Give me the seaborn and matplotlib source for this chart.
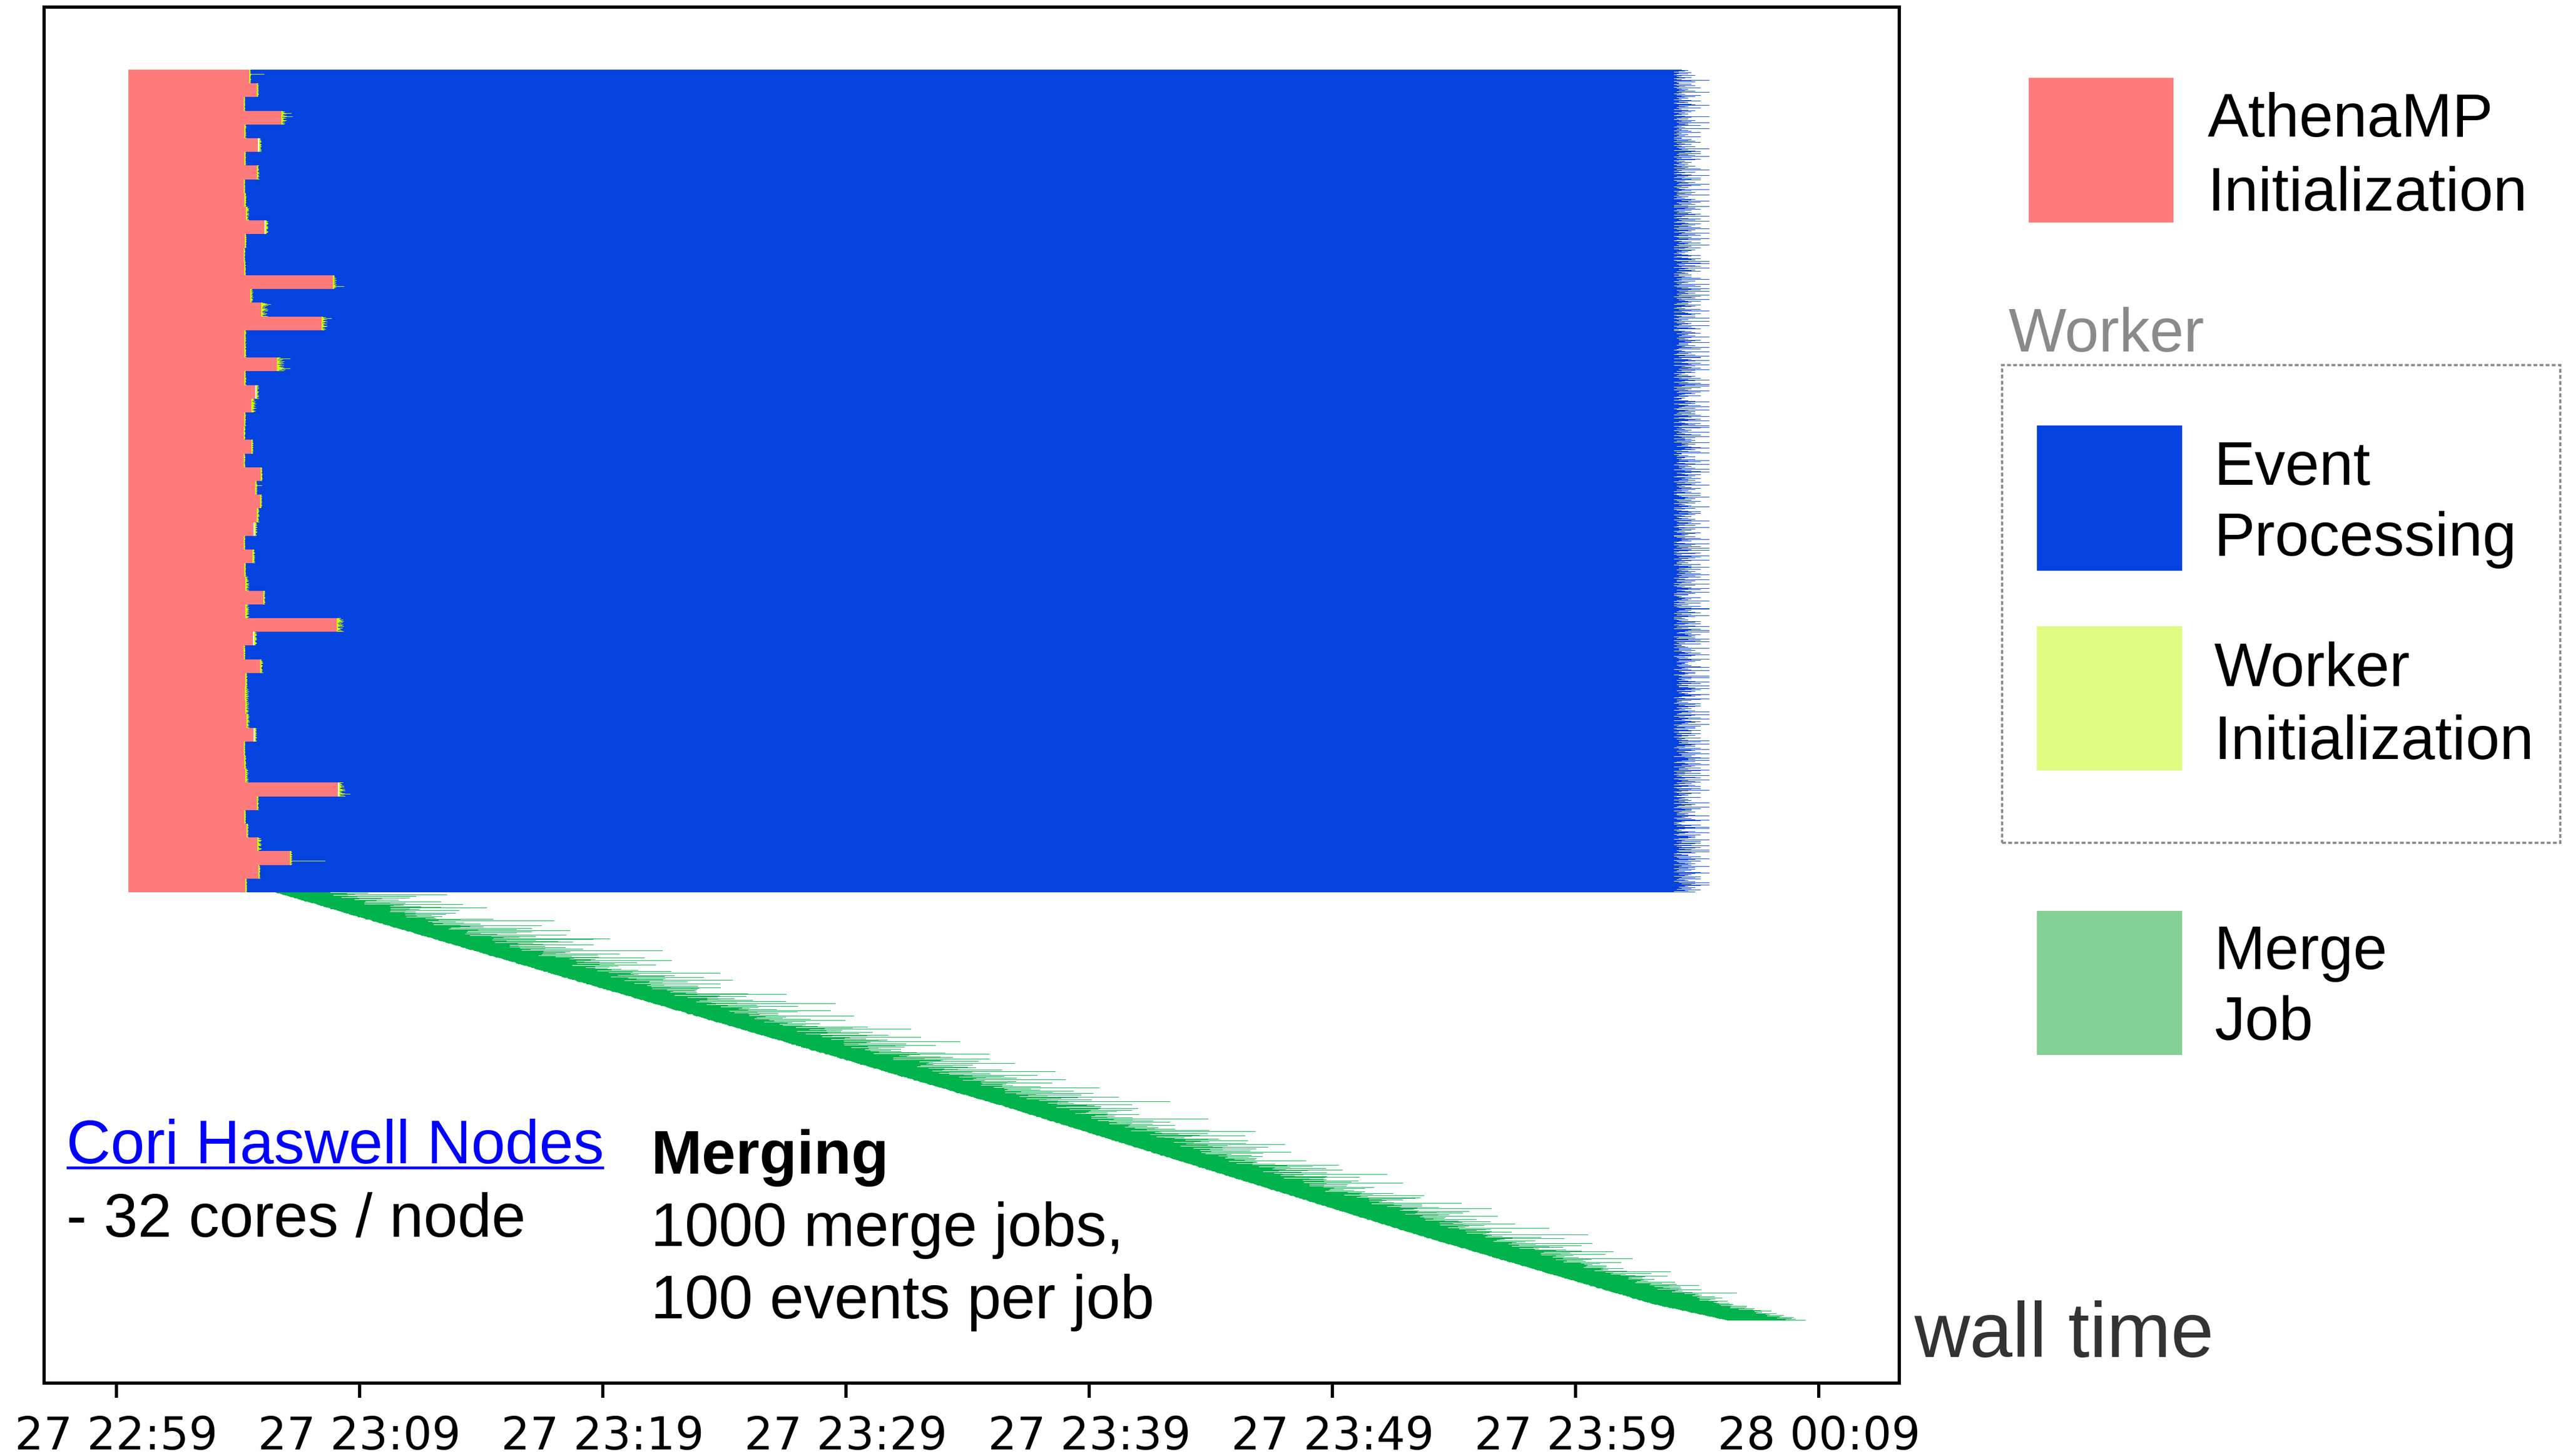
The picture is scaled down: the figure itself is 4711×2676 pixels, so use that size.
import numpy as np
import pandas as pd
import matplotlib
matplotlib.use("Agg")
import matplotlib.pyplot as plt
import matplotlib.dates as mdates
from matplotlib.patches import Rectangle
from matplotlib.lines import Line2D
import seaborn as sns
from datetime import datetime

# ---------------------------------------------------------------- data
run_origin = datetime(2019, 8, 27, 22, 59)      # first labelled tick
athena_start_min = 0.49                          # AthenaMP launched on every node
cores_per_node = 32

# per node: end of AthenaMP initialization (minutes after run_origin)
node_init_end = [
    5.46, 5.77, 5.23, 6.78, 5.26, 5.82, 5.26, 5.77, 5.23, 5.26,
    5.32, 6.08, 5.28, 5.23, 5.26, 8.90, 5.50, 5.94, 8.44, 5.26,
    5.26, 6.60, 5.26, 5.70, 5.55, 5.26, 5.23, 5.55, 5.23, 5.93,
    5.71, 5.91, 5.78, 5.64, 5.23, 5.60, 5.26, 5.30, 6.04, 5.30,
    9.06, 5.62, 5.23, 5.91, 5.30, 5.29, 5.30, 5.35, 5.64, 5.23,
    5.26, 5.30, 9.11, 5.77, 5.26, 5.35, 5.79, 7.14, 5.84, 5.30,
]
# per node: time by which (almost) all workers finished their initialization
node_worker_ready = [
    5.54, 5.86, 5.30, 7.00, 5.34, 5.94, 5.34, 5.88, 5.31, 5.35,
    5.47, 6.21, 5.35, 5.30, 5.32, 9.05, 5.63, 6.25, 8.67, 5.34,
    5.35, 7.00, 5.34, 5.83, 5.74, 5.32, 5.31, 5.64, 5.31, 6.01,
    5.80, 5.99, 5.88, 5.76, 5.31, 5.71, 5.34, 5.47, 6.12, 5.47,
    9.36, 5.74, 5.31, 6.03, 5.39, 5.45, 5.45, 5.48, 5.74, 5.31,
    5.34, 5.45, 9.38, 5.86, 5.33, 5.44, 5.97, 7.23, 5.92, 5.38,
]
nodes_with_idle_gap = [5, 11, 23, 33, 41, 48, 52]
idle_gap_min = 0.04
worker_init_min = 0.045
# relative worker-init spread per core (0 = fastest, 9 = slowest)
worker_init_shape = [
    "31625048271593604826139572048163",
    "52038416927305184629031748250619",
    "14730592861402759368105427396028",
]
# (node, core, end of worker init) for the stragglers
worker_init_tails = [
    (0, 10, 6.08), (3, 6, 7.20), (3, 13, 7.25), (15, 26, 9.37), (17, 3, 6.35),
    (18, 4, 8.87), (21, 2, 7.15), (21, 25, 7.15), (24, 20, 5.97), (30, 10, 5.99),
    (32, 8, 5.99), (40, 6, 9.81), (52, 26, 9.62), (57, 8, 8.59), (57, 22, 8.59),
]

# event processing: common end plus a per-core overrun level
event_end_min = 64.05
event_tail_levels_min = [0.0, 0.1, 0.2, 0.32, 0.45, 0.58, 0.72, 0.88, 1.1, 1.45]
event_tail_code = [
    "35142036251407318264051392607142", "26031745208163524071936204518372",
    "41527306182453016739250418263057", "13604825371049263158027436190524",
    "52813064297135046281730592418603", "30461527083914625037184296350718",
    "64208153729046318572049163825041", "17352048619305274180362951470836",
    "28041637502918463057124893605271", "43619270538140726395081642730159",
    "05274831604926153870429316058247", "39160452837015628409173562804931",
    "72853016429584103672850419236058", "14027963581420735869103458672019",
    "56389104276830915427068193450726", "20746358193627048513962704815369",
    "68135920475163928406715392048561", "31502847963105482679301458627013",
    "47290615382904716538290461573802", "09463728150437289614052837469125",
    "25817403962581037492685103749268", "83016592740318569207431685029734",
    "16748032951764038215976430518297", "54930281674059328160743928516043",
    "38205719463702518493627081954372", "61473028596320481759263041857329",
    "02958317460582931746805293174068", "47162093857430516829461730528193",
    "93025817464137029586214379058264", "25739016482961304857210694835172",
    "50384127693514260837195302648170", "18263950474036182957031426859307",
    "74019358262851703496128537046912", "36581047291094827365204918736540",
    "02714863958362051497306248159730", "69452031870531964827510398624105",
    "13870264596204813957260481593726", "85026491371468309257048136925813",
    "24691370585013728469351790246801", "57308142693946205178403621957403",
    "40915263871358406279145302869514", "92136480576042719358073914628037",
    "31458092762709364815293760481529", "06827315494351062897435106928374",
    "78540219360926384157092648315092", "25079638417163250498617325049861",
    "63291504872408751936248075193624", "19763042585931406827451390268174",
    "47015386290268413759302684137592", "80352917643714058296371405829637",
    "36104829575293716048529371604852", "52978063418460291537846029153784",
    "14629075383017862945301786294530", "91843625076425190378642519037864",
    "68037291542179583406217958340621", "03586142979642038175964203817596",
    "75210946381358720469135872046913", "29674103855083162947508316294750",
    "46392875017261540893726154089372", "83145067290736918452073691845207",
]

# merge jobs: first submission, then seconds between consecutive submissions
merge_first_start_min = 6.55
merge_gap_s = (
    "3444352434 2536431453 4353264342 3625343145 5342433624 1464332445 4237423443 3352461534 2444536323 6343233453 "
    "4353264342 4237423443 3444352434 2444536323 5342433624 2536431453 6343233453 3625343145 3352461534 1464332445 "
    "1464332445 3625343145 3352461534 2536431453 6343233453 3444352434 4353264342 2444536323 4237423443 5342433624 "
    "2444536323 3444352434 5342433624 4237423443 4353264342 3352461534 1464332445 2536431453 6343233453 3625343145 "
    "2536431453 6343233453 1464332445 3625343145 3352461534 4353264342 5342433624 3444352434 4237423443 2444536323 "
    "3433524433 2436323353 4325433442 2436323353 3433524433 4325433442 3433524433 2436323353 4325433442 3433524433 "
    "2436323353 4325433442 3433524433 4325433442 2436323353 3433524433 2436323353 4325433442 3433524433 2436323353 "
    "4325433442 3433524433 2436323353 3433524433 4325433442 2436323353 4325433442 3433524433 2436323353 4325433442 "
    "5342433624 3352461534 3444352434 6343233453 4353264342 1464332445 2444536323 2536431453 3625343145 4237423443 "
    "3444352434 3625343145 4237423443 4353264342 6343233453 3352461534 5464553646 4656456354 6455365464 5546465544"
)
# merge job durations: one base-36 digit per job, in quarter minutes on top of
# the half-minute minimum every merge needs
merge_dur_min = 0.5
merge_dur_unit_min = 0.25
merge_dur_code = (
    "7dg9ap6c8j 9b6hc8r7ea 8fk7b9d6mc 6a9eh7o8bc c7i9d6a8gq 9e7bl8c6fa a8j6d9s7cb 7cg8e6a9nb d9b7k6h8ap 8ai7f9c6bm "
    "6c9gd7a8ro b7e9h8j6ca 9dl7a8c6fi 7bh8e6t9ad c8a9k7g6eb 8f6ma9d7cp 9a7ci8e6bk 6gd9b7n8ac a9e7j6c8qb 7cb8h9f6la "
    "8e9d7o6agc 9b6kc8a7hf 7ai9e6d8mc c8f7b9j6pa 6d9hc7a8eb 9ag7l6b8cs 8c6e9ik7da 7b9fa8n6hc a6d8g9c7oe 9c7bj6f8ak "
    "8d6ga9e7mb 7a9ck8h6cq 9e7b6di8af 6c8jf9a7nb a9d7g6e8rc 8b7h9c6lea 9f6ak8d7bg 7c8e9i6pbd b9a6fh7c8m 6e7dj9b8ao "
    "9a8g7c6kef 7d9bi8a6qc 8c6e7h9laf a7bg9d8n6c 9e8c6j7bad 6b9fa7o8gc 8d7ci9e6ak 7a9h8b6dmf c6e9g7a8sb 9f7b8k6cde "
    "8a6dj9c7ha 7e9c8l6bgf a8b7i9d6pc 9c6fe7h8ka 6d9ag8b7nc 8b7e9j6cqa 9a6hc7f8md 7f8b9g6eak c9d7a6i8ob 8e6bk9c7hd "
    "9b7fa8l6gc 6a9dh7e8rb 7c8gb9j6fa a9e6c8m7dh 8d7ai9b6ke 9f6cg7a8pb 7b9ej8d6ac 6c8hb9f7na a7d9k6c8ge 9e8al7b6qc "
    "9bg8ac7kd9 a8cih9b7eb 8ad9bm7cfa b9e8ag7cob 9c8bj7adh9 a7ec9bl8ca 8b9gd7ach9 c8ak9b7efb 9a7bn8dcga 8c9fb7ai9q "
    "a9db8hc7ka 9b8e7cga9m 8ac9jb7dfa b7a9e8cgl9 9d8bai7c9h a8c9bkd7eb 8b7ag9c9pa 9ce8b7ahd9 a9b7cj8a9f 8da9bg7c9b "
    "9b8cak9a8e a7b9dc8gb9 8c9a9b7eab 9a8bci9b8a b9a8c9d9ab a8b9ca9e9b 9b9a8c9ab8 a9b8ab9c9a 9a8b9a9b8a a9b8a9a8b9"
)

tick_offsets_min = [0, 10, 20, 30, 40, 50, 60, 70]

# ---------------------------------------------------------------- tables
n_nodes = len(node_init_end)
pink_end = np.array(node_init_end)
ready = np.array(node_worker_ready)

w_row, w_init_start, w_init_end, w_evt_end = [], [], [], []
for n in range(n_nodes):
    shape = worker_init_shape[n % len(worker_init_shape)]
    gap = idle_gap_min if n in nodes_with_idle_gap else 0.0
    spread = max(ready[n] - pink_end[n] - worker_init_min, 0.0)
    code = event_tail_code[n]
    for c in range(cores_per_node):
        s = pink_end[n] + gap
        w_row.append(n * cores_per_node + c)
        w_init_start.append(s)
        w_init_end.append(s + worker_init_min + spread * int(shape[c]) / 9.0)
        w_evt_end.append(event_end_min + event_tail_levels_min[int(code[c])])
workers = pd.DataFrame(dict(row=w_row, init_start=w_init_start,
                            init_end=w_init_end, evt_end=w_evt_end))
for n, c, e in worker_init_tails:
    workers.loc[workers.row == n * cores_per_node + c, "init_end"] = e

gaps = np.array([int(ch) for ch in merge_gap_s if ch.isdigit()])
durs = merge_dur_min + np.array([int(ch, 36) for ch in merge_dur_code if ch.isalnum()]) * merge_dur_unit_min
n_merge = min(len(gaps), len(durs))
m_start = merge_first_start_min + np.concatenate([[0.0], np.cumsum(gaps[:n_merge - 1])]) / 60.0
merges = pd.DataFrame(dict(row=n_nodes * cores_per_node + np.arange(n_merge),
                           start=m_start, dur=durs[:n_merge]))

base = mdates.date2num(run_origin)


def when(minutes):
    return base + np.asarray(minutes, dtype=float) / 1440.0


def span(minutes):
    return np.asarray(minutes, dtype=float) / 1440.0


# ---------------------------------------------------------------- figure
PINK, BLUE, YELLOW, GREEN = "#FE7B7B", "#0443DF", "#CCFF00", "#00B34C"
YELLOW_KEY, GREEN_KEY = "#E0FB80", "#85D094"

sns.set_theme(style="ticks")
plt.rcParams["font.family"] = ["DejaVu Sans"]
SANS = ["Liberation Sans", "DejaVu Sans"]

W, H, DPI = 4711, 2676, 300
fig = plt.figure(figsize=(W / DPI, H / DPI), dpi=DPI, facecolor="white")


def fx(px):
    return px / W


def fy(py):
    return 1.0 - py / H


ax = fig.add_axes([fx(81), fy(2542), fx(3491) - fx(81), fy(13) - fy(2542)])
ax.set_facecolor("white")

bar_kw = dict(align="edge", linewidth=0, antialiased=False)
node_rows = np.arange(n_nodes) * cores_per_node
ax.barh(node_rows, span(pink_end - athena_start_min), left=when(np.full(n_nodes, athena_start_min)),
        height=cores_per_node, color=PINK, **bar_kw)
ax.barh(workers.row, span(workers.init_end - workers.init_start), left=when(workers.init_start),
        height=1, color=YELLOW, **bar_kw)
ax.barh(workers.row, span(workers.evt_end - workers.init_end), left=when(workers.init_end),
        height=1, color=BLUE, **bar_kw)
ax.barh(merges.row, span(merges.dur), left=when(merges.start),
        height=1, color=GREEN, **bar_kw)

ax.set_xlim(when(-2.975), when(73.31))
ax.set_ylim(3065.4, -146.0)
ax.set_yticks([])
ax.set_xticks(when(tick_offsets_min))
ax.xaxis.set_major_formatter(mdates.DateFormatter("%d %H:%M"))
ax.tick_params(axis="x", bottom=True, length=6.5, width=1.4, pad=7.5,
               labelsize=20, colors="black", direction="out")
for sp in ax.spines.values():
    sp.set_visible(True)
    sp.set_linewidth(1.44)
    sp.set_color("black")
ax.set_xlabel("")
ax.set_ylabel("")

# annotations inside the axes
txt = dict(fontsize=27, family=SANS, ha="left", va="baseline")
cori = fig.text(fx(122), fy(2138), "Cori Haswell Nodes", color="#0000FF", **txt)
fig.text(fx(122), fy(2272), "- 32 cores / node", color="black", **txt)
fig.text(fx(1196), fy(2157), "Merging", color="black", fontweight="bold", **txt)
fig.text(fx(1196), fy(2290), "1000 merge jobs,", color="black", **txt)
fig.text(fx(1196), fy(2423), "100 events per job", color="black", **txt)
fig.text(fx(3518), fy(2494), "wall time", color="#333333", fontsize=34,
         family=SANS, ha="left", va="baseline")

# legend column
def key_patch(x0, y0, x1, y1, color):
    fig.add_artist(Rectangle((fx(x0), fy(y1)), fx(x1) - fx(x0), fy(y0) - fy(y1),
                             transform=fig.transFigure, facecolor=color,
                             edgecolor="none", linewidth=0))


key_patch(3729, 143, 3995, 409, PINK)
key_patch(3744, 782, 4011, 1049, BLUE)
key_patch(3744, 1151, 4011, 1416, YELLOW_KEY)
key_patch(3744, 1674, 4011, 1939, GREEN_KEY)

for label, x, y in [("AthenaMP", 4058, 251), ("Initialization", 4058, 387),
                    ("Event", 4070, 891), ("Processing", 4070, 1021),
                    ("Worker", 4070, 1261), ("Initialization", 4070, 1395),
                    ("Merge", 4070, 1781), ("Job", 4070, 1911)]:
    fig.text(fx(x), fy(y), label, color="black", **txt)
fig.text(fx(3692), fy(646), "Worker", color="#8A8A8A", **txt)

fig.add_artist(Rectangle((fx(3680), fy(1549)), fx(4706) - fx(3680), fy(671) - fy(1549),
                         transform=fig.transFigure, fill=False, edgecolor="#8C8C8C",
                         linewidth=1.0, linestyle=(0, (1.7, 1.0))))

# underline for the node label
fig.canvas.draw()
bb = cori.get_window_extent(fig.canvas.get_renderer())
fig.add_artist(Line2D([bb.x0 / W, bb.x1 / W], [fy(2145.5), fy(2145.5)],
                      transform=fig.transFigure, color="#0000FF", linewidth=1.2,
                      solid_capstyle="butt"))

fig.savefig("out.png", dpi=DPI, facecolor="white")
